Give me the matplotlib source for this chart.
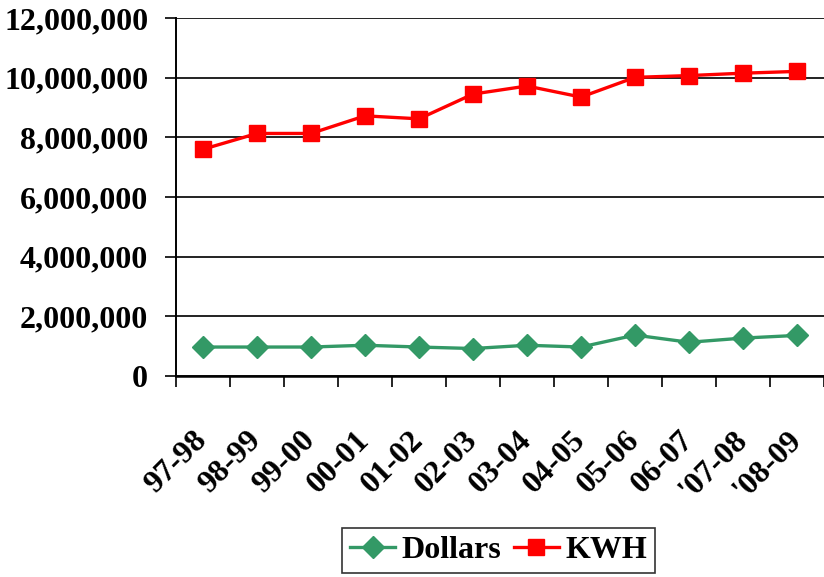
# Electricity use and cost by fiscal year
import matplotlib
matplotlib.use('Agg')
import matplotlib.pyplot as plt
from matplotlib.ticker import FuncFormatter
import numpy as np

# Fiscal years
years = ['97-98', '98-99', '99-00', '00-01', '01-02', '02-03',
         '03-04', '04-05', '05-06', '06-07', "'07-08", "'08-09"]
# Cost - dollars
dollars = [970000, 970000, 970000, 1030000, 970000, 920000,
           1030000, 970000, 1370000, 1130000, 1270000, 1360000]
# Energy use - KWH
kwh = [7600000, 8130000, 8130000, 8720000, 8620000, 9450000,
       9720000, 9350000, 10010000, 10070000, 10150000, 10210000]
# Y ticks
yticks = [0, 2000000, 4000000, 6000000, 8000000, 10000000, 12000000]

plt.rcParams['font.family'] = ['Liberation Serif', 'DejaVu Serif']
plt.rcParams['font.weight'] = 'bold'

fig = plt.figure(figsize=(8.24, 5.77), dpi=100)
ax = fig.add_axes([0.2136, 0.3484, 0.7864, 0.6204])

x = np.arange(len(years)) + 0.5
ax.plot(x, dollars, color='#339966', lw=2.4, marker='D', ms=11,
        label='Dollars')
ax.plot(x, kwh, color='#FF0000', lw=2.4, marker='s', ms=11.5,
        label='KWH')

ax.set_xlim(0, len(years))
ax.set_ylim(0, 12000000)

# Y axis
ax.set_yticks(yticks)
ax.yaxis.set_major_formatter(FuncFormatter(lambda v, p: f'{int(v):,}'))
ax.yaxis.grid(True, color='#222222', lw=1.4)
ax.tick_params(axis='y', length=8, width=1.2, pad=12, labelsize=23)

# X axis: ticks between categories, labels at centers
ax.set_xticks(np.arange(len(years) + 1))
ax.set_xticklabels([])
ax.set_xticks(x, minor=True)
ax.set_xticklabels(years, minor=True, rotation=45, ha='right',
                   va='center', rotation_mode='anchor', fontsize=23)
ax.tick_params(axis='x', which='major', length=8, width=1.2)
ax.tick_params(axis='x', which='minor', length=0, pad=43)

ax.spines['right'].set_visible(False)
ax.spines['top'].set_visible(False)
ax.spines['left'].set_linewidth(1.4)
ax.spines['bottom'].set_linewidth(1.8)

leg = fig.legend(loc='center', bbox_to_anchor=(0.605, 0.046), ncol=2,
                 fontsize=23, frameon=True, fancybox=False,
                 handlelength=1.4, handletextpad=0.2, columnspacing=0.4,
                 borderpad=0.25, borderaxespad=0)
leg.get_frame().set_edgecolor('black')
leg.get_frame().set_linewidth(1.2)

fig.savefig('out.png', dpi=100)
